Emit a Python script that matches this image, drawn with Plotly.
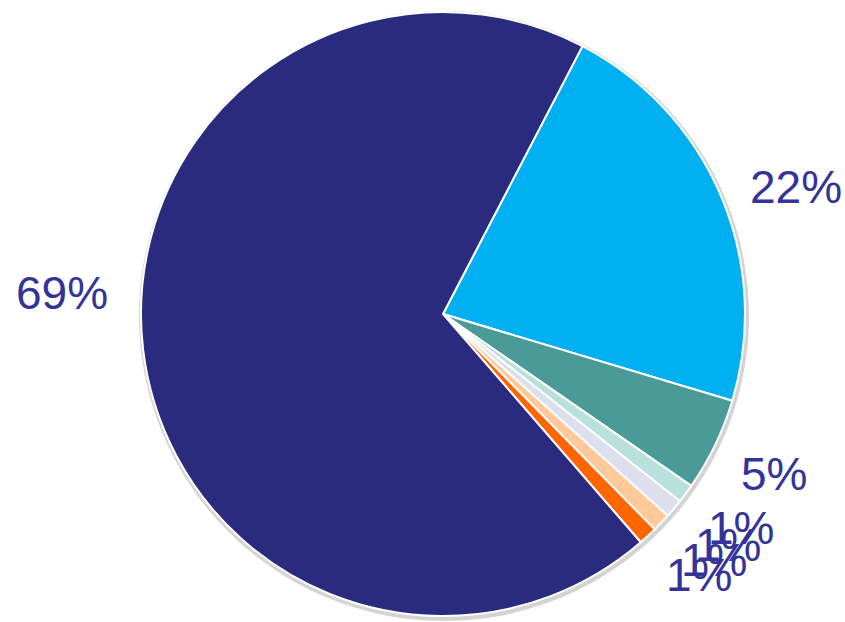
import math
import plotly.graph_objects as go

categories = ["A", "B", "C", "D", "E", "F", "G"]
values = [22, 5, 1, 1, 1, 1, 69]
colors = ["#00B0F0", "#4A9A98", "#B8E0DD", "#DDDFEF", "#FFC999", "#FF6600", "#2A2A7E"]

W, H = 845, 622
cx, cy, R = 443, 314, 302
start_angle = 27.5
# layout tweaks for label placement (pixels), per category
label_nudge = {"A": (-4, -12), "G": (0, -75)}

def dom(cx_, cy_, r_):
    return dict(x=[(cx_ - r_) / W, (cx_ + r_) / W],
                y=[(H - cy_ - r_) / H, (H - cy_ + r_) / H])

fig = go.Figure()
# soft shadow
fig.add_trace(go.Pie(
    values=[1], labels=["shadow"], sort=False,
    marker=dict(colors=["#D4D4D4"], line=dict(width=0)),
    textinfo="none", hoverinfo="skip", showlegend=False,
    domain=dom(cx + 1, cy + 2, R + 3),
))
fig.add_trace(go.Pie(
    labels=categories,
    values=values,
    sort=False,
    direction="clockwise",
    rotation=start_angle,
    marker=dict(colors=colors, line=dict(color="white", width=2)),
    textinfo="none",
    showlegend=False,
    domain=dom(cx, cy, R),
    hoverinfo="label+percent",
))

total = sum(values)
cum = 0.0
for cat, v in zip(categories, values):
    mid = start_angle + (cum + v / 2) / total * 360
    cum += v
    a = math.radians(mid)
    rl = R + 33
    right = math.sin(a) >= 0
    ndx, ndy = label_nudge.get(cat, (-6 if right else 0, 0))
    px = cx + rl * math.sin(a) + ndx
    py = cy - rl * math.cos(a) + 15 + ndy
    fig.add_annotation(
        x=px / W, y=1 - py / H, xref="paper", yref="paper",
        text=f"{v / total * 100:.0f}%",
        showarrow=False,
        xanchor="left" if right else "right",
        yanchor="middle",
        font=dict(family="Liberation Sans, Arial", size=46, color="#333399"),
    )

fig.update_layout(
    width=W, height=H,
    margin=dict(l=0, r=0, t=0, b=0),
    paper_bgcolor="white",
    plot_bgcolor="white",
)
fig.write_html("out.html")
